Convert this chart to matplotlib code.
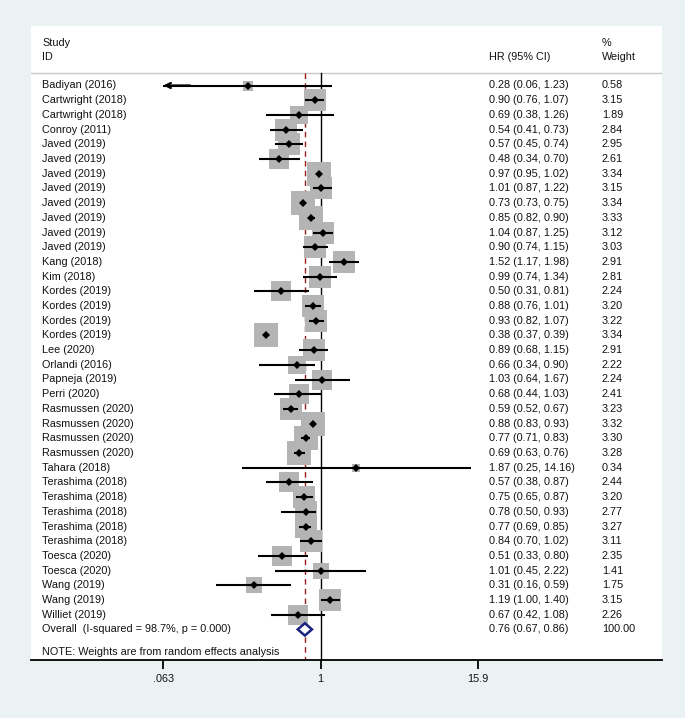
import numpy as np
import matplotlib
matplotlib.use("Agg")
import matplotlib.pyplot as plt
from matplotlib.transforms import blended_transform_factory

plt.rcParams['font.family'] = ['Liberation Sans', 'DejaVu Sans']

studies = ["Badiyan (2016)", "Cartwright (2018)", "Cartwright (2018)", "Conroy (2011)",
           "Javed (2019)", "Javed (2019)", "Javed (2019)", "Javed (2019)", "Javed (2019)",
           "Javed (2019)", "Javed (2019)", "Javed (2019)", "Kang (2018)", "Kim (2018)",
           "Kordes (2019)", "Kordes (2019)", "Kordes (2019)", "Kordes (2019)", "Lee (2020)",
           "Orlandi (2016)", "Papneja (2019)", "Perri (2020)", "Rasmussen (2020)",
           "Rasmussen (2020)", "Rasmussen (2020)", "Rasmussen (2020)", "Tahara (2018)",
           "Terashima (2018)", "Terashima (2018)", "Terashima (2018)", "Terashima (2018)",
           "Terashima (2018)", "Toesca (2020)", "Toesca (2020)", "Wang (2019)", "Wang (2019)",
           "Williet (2019)"]
hr = [0.28, 0.90, 0.69, 0.54, 0.57, 0.48, 0.97, 1.01, 0.73, 0.85, 1.04, 0.90, 1.52, 0.99,
      0.50, 0.88, 0.93, 0.38, 0.89, 0.66, 1.03, 0.68, 0.59, 0.88, 0.77, 0.69, 1.87, 0.57,
      0.75, 0.78, 0.77, 0.84, 0.51, 1.01, 0.31, 1.19, 0.67]
lower = [0.06, 0.76, 0.38, 0.41, 0.45, 0.34, 0.95, 0.87, 0.73, 0.82, 0.87, 0.74, 1.17, 0.74,
         0.31, 0.76, 0.82, 0.37, 0.68, 0.34, 0.64, 0.44, 0.52, 0.83, 0.71, 0.63, 0.25, 0.38,
         0.65, 0.50, 0.69, 0.70, 0.33, 0.45, 0.16, 1.00, 0.42]
upper = [1.23, 1.07, 1.26, 0.73, 0.74, 0.70, 1.02, 1.22, 0.75, 0.90, 1.25, 1.15, 1.98, 1.34,
         0.81, 1.01, 1.07, 0.39, 1.15, 0.90, 1.67, 1.03, 0.67, 0.93, 0.83, 0.76, 14.16, 0.87,
         0.87, 0.93, 0.85, 1.02, 0.80, 2.22, 0.59, 1.40, 1.08]
weight = [0.58, 3.15, 1.89, 2.84, 2.95, 2.61, 3.34, 3.15, 3.34, 3.33, 3.12, 3.03, 2.91, 2.81,
          2.24, 3.20, 3.22, 3.34, 2.91, 2.22, 2.24, 2.41, 3.23, 3.32, 3.30, 3.28, 0.34, 2.44,
          3.20, 2.77, 3.27, 3.11, 2.35, 1.41, 1.75, 3.15, 2.26]
overall_label = "Overall  (I-squared = 98.7%, p = 0.000)"
overall_hr, overall_lo, overall_hi, overall_w = 0.76, 0.67, 0.86, 100.00
tick_values = [1 / 15.9, 1.0, 15.9]
tick_labels = [".063", "1", "15.9"]

W, H = 685, 718
fig = plt.figure(figsize=(W / 100, H / 100), dpi=100)
fig.patch.set_facecolor("#eaf2f3")

ax_l, ax_r, ax_t, ax_b = 31, 662, 26, 660
ax = fig.add_axes([ax_l / W, 1 - ax_b / H, (ax_r - ax_l) / W, (ax_b - ax_t) / H])
ax.set_facecolor("white")

# x mapping: 1 at pixel 320.5, 56.8 px per ln unit
px1, ppl = 320.5, 56.8
ax.set_xscale("log")
ax.set_xlim(np.exp((ax_l - px1) / ppl), np.exp((ax_r - px1) / ppl))
row0, rowh = 85.5, 14.7
ax.set_ylim((ax_b - row0) / rowh, (ax_t - row0) / rowh)

n = len(studies)
ys = np.arange(n)
y_over = n
y_note = n + 1.53
y_head = -0.82

tr = blended_transform_factory(ax.transAxes, ax.transData)
span = ax_r - ax_l
xs_name, xs_hr, xs_w = (42 - ax_l) / span, (489 - ax_l) / span, (602 - ax_l) / span

fs = 7.8
tc = "#111111"
ax.text(xs_name, -2.91, "Study", transform=tr, fontsize=fs, va="center", color=tc)
ax.text(xs_name, -1.96, "ID", transform=tr, fontsize=fs, va="center", color=tc)
ax.text(xs_hr, -1.96, "HR (95% CI)", transform=tr, fontsize=fs, va="center", color=tc)
ax.text(xs_w, -2.91, "%", transform=tr, fontsize=fs, va="center", color=tc)
ax.text(xs_w, -1.96, "Weight", transform=tr, fontsize=fs, va="center", color=tc)
ax.axhline(y_head, color="#c8c8c8", lw=1.0, zorder=1)

ybot = ax.get_ylim()[0]
ax.plot([1, 1], [y_head, ybot], color="black", lw=1.0, zorder=1)
ax.plot([overall_hr, overall_hr], [y_head, ybot], color="#9b1c1c", lw=1.0,
        dashes=(4, 3), zorder=1)

xmin_tick = tick_values[0]
for i in range(n):
    y = ys[i]
    side_pt = 12.7 * np.sqrt(weight[i]) * 0.72
    ax.scatter([hr[i]], [y], marker="s", s=side_pt ** 2, color="#b4b4b4",
               linewidths=0, zorder=2)
    if lower[i] < xmin_tick:
        ax.plot([xmin_tick, upper[i]], [y, y], color="black", lw=1.5, zorder=3,
                solid_capstyle="butt")
        ax.annotate("", xy=(xmin_tick, y), xytext=(xmin_tick * 1.6, y),
                    arrowprops=dict(arrowstyle="->", lw=1.6, color="black",
                                    mutation_scale=9, shrinkA=0, shrinkB=0), zorder=3)
    else:
        ax.plot([lower[i], upper[i]], [y, y], color="black", lw=1.5, zorder=3,
                solid_capstyle="butt")
    ax.plot([hr[i]], [y], marker="D", ms=3.6, color="black", zorder=4, mew=0)
    ax.text(xs_name, y, studies[i], transform=tr, fontsize=fs, va="center", color=tc)
    ax.text(xs_hr, y, f"{hr[i]:.2f} ({lower[i]:.2f}, {upper[i]:.2f})", transform=tr,
            fontsize=fs, va="center", color=tc)
    ax.text(xs_w, y, f"{weight[i]:.2f}", transform=tr, fontsize=fs, va="center", color=tc)

# overall diamond
dh = 0.42
dx = [overall_lo, overall_hr, overall_hi, overall_hr, overall_lo]
dy = [y_over, y_over - dh, y_over, y_over + dh, y_over]
ax.fill(dx, dy, facecolor="white", edgecolor="#1a237e", lw=1.8, zorder=5)
ax.text(xs_name, y_over, overall_label, transform=tr, fontsize=fs, va="center", color=tc)
ax.text(xs_hr, y_over, f"{overall_hr:.2f} ({overall_lo:.2f}, {overall_hi:.2f})",
        transform=tr, fontsize=fs, va="center", color=tc)
ax.text(xs_w, y_over, f"{overall_w:.2f}", transform=tr, fontsize=fs, va="center", color=tc)
ax.text(xs_name, y_note, "NOTE: Weights are from random effects analysis", transform=tr,
        fontsize=fs, va="center", color=tc)

for s in ["top", "left", "right"]:
    ax.spines[s].set_visible(False)
ax.spines["bottom"].set_linewidth(1.3)
ax.set_yticks([])
ax.set_xticks(tick_values)
ax.set_xticklabels(tick_labels, fontsize=fs, color=tc)
ax.xaxis.set_minor_locator(matplotlib.ticker.NullLocator())
ax.tick_params(axis="x", direction="out", length=6.5, width=1.3, pad=3.5)

fig.savefig("out.png", dpi=100, facecolor=fig.get_facecolor())
